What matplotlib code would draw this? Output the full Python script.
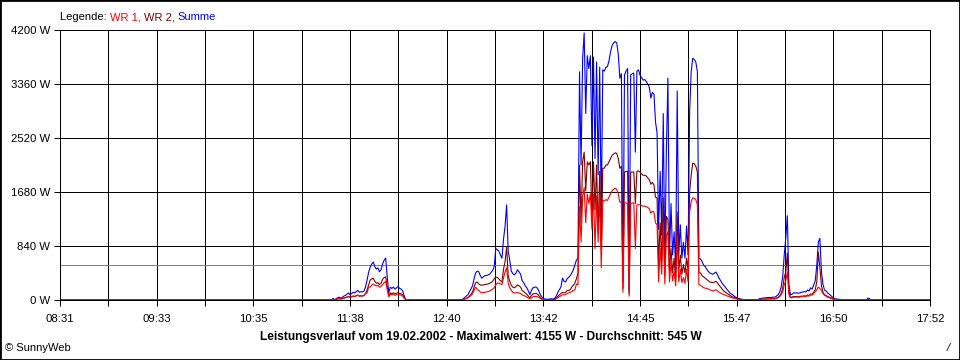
import numpy as np
import matplotlib
matplotlib.use("Agg")
import matplotlib.pyplot as plt

plt.rcParams['font.family'] = ['Liberation Sans', 'DejaVu Sans']

# ---------------- data (minutes since 08:31, W) ----------------
day_length = 561  # 08:31 .. 17:52
tick_labels = ["08:31", "09:33", "10:35", "11:38", "12:40",
               "13:42", "14:45", "15:47", "16:50", "17:52"]
y_ticks = [0, 840, 1680, 2520, 3360, 4200]
average_w = 545
max_w = 4155

seg1_start = 175
seg1_summe = [0,25,10,15,35,45,30,40,60,70,90,110,80,100,120,110,130,150,120,130,125,140,200,310,430,510,560,590,520,480,500,440,470,560,620,650,360,110,200,180,200,170,190,210,180,170,140,60,0]
seg1_wr2 = [0,10,5,8,15,20,15,20,30,35,45,55,40,50,60,55,65,75,60,65,60,70,100,155,230,310,330,340,290,260,270,240,260,320,350,360,200,60,110,100,110,100,105,115,100,95,80,35,0]
seg1_wr1 = [0,15,5,7,20,25,15,20,30,35,45,55,40,50,60,55,65,75,60,65,65,70,100,110,200,200,230,250,230,220,230,200,210,240,270,290,160,50,90,80,90,70,85,95,80,75,60,25,0]

seg2_start = 259
seg2_summe = [0,20,40,60,80,130,170,220,330,420,450,440,380,340,360,380,380,390,400,430,460,520,800,780,760,700,650,950,1150,1480,760,620,450,410,390,420,470,440,400,300,270,220,190,140,85,150,190,200,200,180,125,70,40,20,15,10,15,15,20,15,25,60,120,160,200,340,290,280,330,350,380,420,470,545,620]
seg2_wr2 = [0,5,15,25,35,60,90,125,200,270,280,250,235,230,235,240,245,250,260,275,290,330,360,350,330,300,280,480,600,820,380,290,230,200,190,210,235,220,200,150,130,110,90,60,35,70,95,100,100,90,60,30,15,8,6,5,6,6,8,6,10,30,55,80,100,120,110,120,145,150,160,200,230,265,330]
seg2_wr1 = [0,5,15,25,35,50,70,95,150,200,170,150,125,110,115,120,125,130,140,155,170,190,235,265,260,250,240,350,435,500,260,190,150,120,110,110,115,110,100,80,70,60,45,30,20,35,50,55,55,50,35,18,10,5,4,3,4,4,5,4,6,20,35,50,65,80,80,85,100,110,120,130,150,155,250]

main_start = 334
main_summe = [650,3550,2100,3750,4155,2900,3800,3600,3800,2400,3780,2200,3700,1950,3620,1300,
              3580,3560,3620,3630,3720,3860,3960,4000,4020,4000,3820,3450,3520,300,3500,3560,3600,150,
              3500,3520,3530,2300,3560,3580,3500,3460,3420,3430,3400,3360,3310,3140,3230,3200,2770,2600,
              1100,2000,1010,2900,600,2300,3450,700,1500,700,1060,500,3250,700,1170,650,900,650,1150,700,
              2920,3550,3760,3740,3700,3550,650,640,600,545,520,480,445,420,410,400,420,435,390,340,300,
              260,230,200,165,140,110,90,75,55,40,30,20,15,10,5,0]
main_wr2 = [420,2100,1200,2150,2300,1700,2150,2100,2150,1300,2150,1400,2100,1050,2000,800,
            2050,2050,2100,2100,2150,2200,2250,2270,2290,2280,2200,2050,2080,180,1990,2000,2000,100,
            1990,1990,1990,1500,2000,2010,1990,1960,1940,1940,1930,1900,1870,1800,1830,1790,1600,1590,
            545,1200,600,1590,380,1300,1250,450,800,420,650,300,1370,450,700,400,550,420,650,450,
            1680,1940,2130,2120,2080,1990,420,420,380,360,340,320,300,280,275,270,280,290,265,230,200,
            170,140,125,105,90,70,55,45,35,25,20,12,10,6,3,0]
main_wr1 = [235,1450,900,1600,1750,1200,1650,1500,1650,1100,1650,800,1620,900,1630,500,
            1550,1540,1560,1550,1600,1650,1700,1720,1740,1720,1650,1520,1530,120,1510,1510,1500,60,
            1500,1510,1510,800,1480,1480,1480,1470,1460,1460,1450,1440,1420,1350,1380,1370,1200,1170,
            280,800,400,1200,250,1000,1060,280,600,300,450,220,1000,280,480,270,350,260,480,280,
            1370,1530,1590,1580,1560,1480,235,230,210,190,185,180,170,160,150,140,150,160,140,120,105,
            95,85,75,65,55,45,35,30,25,18,12,8,6,4,2,0]

seg4_start = 450
seg4_summe = [0,20,25,30,30,35,35,40,40,40,45,45,60,80,120,200,360,700,960,1310,250,80,90,110,110,110,105,110,120,125,130,125,155,140,190,170,235,300,545,900,960,440,240,155,140,110,90,70,45,25,15,15,10,10,0]
seg4_wr2 = [0,10,12,15,15,18,18,20,20,20,22,22,30,40,60,100,180,350,435,730,120,40,45,55,55,55,50,55,60,60,65,60,80,70,95,90,120,160,280,745,500,220,120,80,70,55,45,35,25,15,8,8,5,5,0]
seg4_wr1 = [0,8,10,12,12,14,14,16,16,16,18,18,25,35,50,80,130,235,300,435,90,35,35,45,45,45,45,45,50,55,55,55,65,60,80,75,100,130,155,200,180,150,100,70,60,45,35,25,15,10,5,5,3,3,0]

seg5_start = 520
seg5_summe = [0,30,20,0]
seg5_wr2 = [0,10,5,0]
seg5_wr1 = [0,8,5,0]

# ---------------- assemble series ----------------
minutes = np.arange(0, day_length + 1)
summe = np.zeros(minutes.size)
wr1 = np.zeros(minutes.size)
wr2 = np.zeros(minutes.size)
segments = [
    (seg1_start, seg1_summe, seg1_wr1, seg1_wr2),
    (seg2_start, seg2_summe, seg2_wr1, seg2_wr2),
    (main_start, main_summe, main_wr1, main_wr2),
    (seg4_start, seg4_summe, seg4_wr1, seg4_wr2),
    (seg5_start, seg5_summe, seg5_wr1, seg5_wr2),
]
for start, s, w1, w2 in segments:
    summe[start:start + len(s)] = s
    wr1[start:start + len(w1)] = w1
    wr2[start:start + len(w2)] = w2

# ---------------- figure ----------------
W, H = 960, 360
fig = plt.figure(figsize=(W / 100, H / 100), dpi=100, facecolor='white')
ax = fig.add_axes([60 / W, 1 - 300 / H, 870 / W, 270 / H])
ax.set_facecolor('white')

px = 0.72  # one pixel in points at 100 dpi
ax.plot(minutes, summe, color='#0000FF', lw=0.8, zorder=2)
ax.plot(minutes, wr2, color='#800000', lw=0.8, zorder=2.1)
ax.plot(minutes, wr1, color='#FF0000', lw=0.8, zorder=2.2)
ax.axhline(average_w, color='#808080', lw=px, zorder=1.5, antialiased=False)

ax.set_xlim(0, day_length)
ax.set_ylim(0, 4200)

n_grid = 18
xt = [k * day_length / n_grid for k in range(n_grid + 1)]
ax.set_xticks(xt)
ax.set_xticklabels([tick_labels[k // 2] if k % 2 == 0 else "" for k in range(n_grid + 1)])
ax.set_yticks(y_ticks)
ax.set_yticklabels([f"{v} W" for v in y_ticks])
ax.tick_params(axis='both', direction='out', length=4, width=px, color='black',
               labelsize=8.2, labelcolor='black')
ax.tick_params(axis='y', pad=3)
ax.tick_params(axis='x', pad=6)
ax.grid(True, color='black', lw=px, antialiased=False)
ax.set_axisbelow(True)
for sp in ax.spines.values():
    sp.set_color('black')
    sp.set_linewidth(px)
    sp.set_zorder(3)
    sp.set_antialiased(False)

# legend line
t0 = fig.text(60 / W, 1 - 17 / H, "Legende: ", fontsize=8, color='black', va='center', ha='left')
t1 = ax.annotate("WR 1, ", xy=(1, 0), xycoords=t0, va='bottom', ha='left', fontsize=8, color='#FF0000')
t2 = ax.annotate("WR 2, ", xy=(1, 0), xycoords=t1, va='bottom', ha='left', fontsize=8, color='#800000')
t3 = ax.annotate("Summe", xy=(1, 0), xycoords=t2, va='bottom', ha='left', fontsize=8, color='#0000FF')

fig.text(481 / W, 1 - 337 / H,
         f"Leistungsverlauf vom 19.02.2002 - Maximalwert: {max_w} W - Durchschnitt: {average_w} W",
         fontsize=8.6, weight='bold', ha='center', va='center', color='black')
fig.text(5 / W, 1 - 348 / H, "© SunnyWeb", fontsize=8, ha='left', va='center', color='black')
fig.text(948 / W, 1 - 348 / H, "/", fontsize=8, ha='center', va='center', color='black', style='italic')

fig.patches.append(plt.Rectangle((0, 0), 1, 1, transform=fig.transFigure, fill=False,
                                 edgecolor='black', lw=2, zorder=10))

fig.savefig("out.png", dpi=100, facecolor='white')
